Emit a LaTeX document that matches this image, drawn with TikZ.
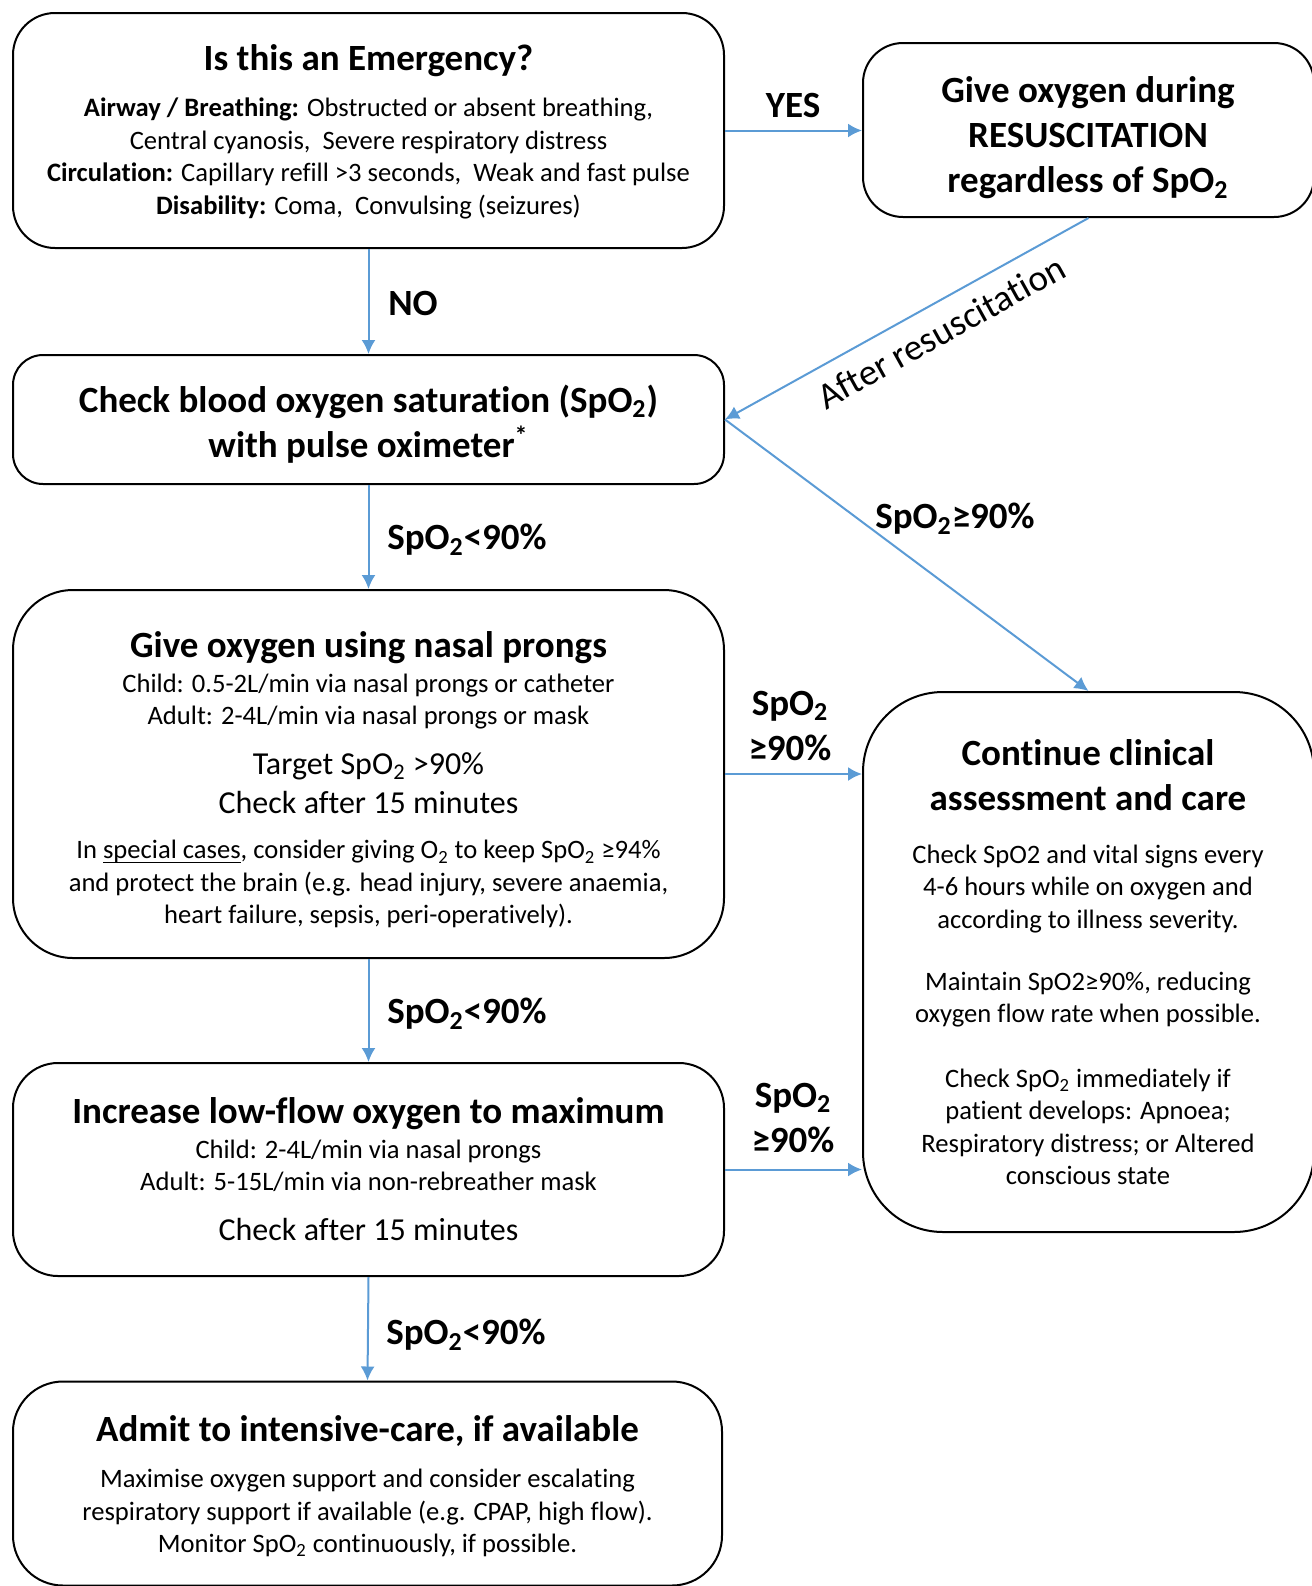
\documentclass[tikz,border=0pt]{standalone}
\usepackage{fontspec}
\setmainfont{Carlito}[Ligatures=NoCommon]
\usetikzlibrary{arrows.meta}
\definecolor{flow}{HTML}{5B9BD5}
\newcommand{\ttlfont}{\fontsize{18.5}{22.5}\selectfont\bfseries}
\newcommand{\txtfont}{\fontsize{13.3}{16.2}\selectfont}
\newcommand{\midfont}{\fontsize{16}{19.5}\selectfont}
\newcommand{\spo}{SpO\textsubscript{2}}
\newcommand{\undr}[1]{\setbox0\hbox{#1}\rlap{\rule[-2pt]{\wd0}{0.6pt}}#1}

\begin{document}
\begin{tikzpicture}[x=0.5pt,y=-0.5pt,
  box/.style={draw,line width=1pt,rounded corners=#1,inner sep=0pt},
  link/.style={draw=flow,line width=1pt,-{Latex[length=7pt,width=7pt]}},
  lbl/.style={font=\ttlfont,inner sep=0pt,align=center}]
\useasboundingbox (0,0) rectangle (1312,1586);
% boxes
\node[box=21pt,minimum width=355.5pt,minimum height=117.5pt] (emerg) at (368.5,130.5) {};
\node[box=20pt,minimum width=225.5pt,minimum height=87pt] (resus) at (1088.5,130) {};
\node[box=15pt,minimum width=355.5pt,minimum height=64.5pt] (check) at (368.5,419.5) {};
\node[box=30pt,minimum width=355.5pt,minimum height=184pt] (nasal) at (368.5,774) {};
\node[box=22.5pt,minimum width=355.5pt,minimum height=106.5pt] (incr) at (368.5,1169.5) {};
\node[box=25pt,minimum width=354.5pt,minimum height=102pt] (admit) at (367.5,1483.5) {};
\node[box=40pt,minimum width=225.5pt,minimum height=270pt] (cont) at (1088.5,962) {};
% texts
\begin{scope}[inner sep=0pt,align=center]
\node[font=\ttlfont] (emerg-t) at (368.5,61) {Is this an Emergency?};
\node[font=\txtfont] (emerg-b) at (368.5,158.5) {\textbf{Airway / Breathing:} Obstructed or absent breathing,\\
  Central cyanosis,~ Severe respiratory distress\\
  \textbf{Circulation:} Capillary refill >3 seconds,~ Weak and fast pulse\\
  \textbf{Disability:} Coma,~ Convulsing (seizures)};
\node[font=\ttlfont] (resus-t) at (1088,138) {Give oxygen during\\RESUSCITATION\\regardless of \spo};
\node[font=\ttlfont] (check-t) at (368.5,424) {Check blood oxygen saturation (\spo)\\with pulse oximeter\textsuperscript{*}};
\node[font=\ttlfont] (nasal-t) at (368.5,648) {Give oxygen using nasal prongs};
\node[font=\txtfont] (nasal-b) at (368.5,701.5) {Child: 0.5-2L/min via nasal prongs or catheter\\Adult: 2-4L/min via nasal prongs or mask};
\node[font=\midfont] (nasal-m) at (368.5,783) {Target \spo{} >90\%\\Check after 15 minutes};
\node[font=\txtfont] (nasal-s) at (368.5,884) {In \undr{special cases}, consider giving O\textsubscript{2} to keep \spo{} ≥94\%\\
  and protect the brain (e.g. head injury, severe anaemia,\\heart failure, sepsis, peri-operatively).};
\node[font=\ttlfont] (incr-t) at (368.5,1114) {Increase low-flow oxygen to maximum};
\node[font=\txtfont] (incr-b) at (368.5,1166) {Child: 2-4L/min via nasal prongs\\Adult: 5-15L/min via non-rebreather mask};
\node[font=\midfont] (incr-m) at (368.5,1229) {Check after 15 minutes};
\node[font=\ttlfont] (admit-t) at (367.5,1431) {Admit to intensive-care, if available};
\node[font=\txtfont] (admit-b) at (367.5,1513) {Maximise oxygen support and consider escalating\\
  respiratory support if available (e.g. CPAP, high flow).\\Monitor \spo{} continuously, if possible.};
\node[font=\ttlfont] (cont-t) at (1088,775) {Continue clinical\\assessment and care};
\node[font=\txtfont] (cont-a) at (1088,889) {Check SpO2 and vital signs every\\4-6 hours while on oxygen and\\according to illness severity.};
\node[font=\txtfont] (cont-b) at (1088,999.5) {Maintain SpO2≥90\%, reducing\\oxygen flow rate when possible.};
\node[font=\txtfont] (cont-c) at (1088,1127) {Check \spo{} immediately if\\patient develops: Apnoea;\\Respiratory distress; or Altered\\conscious state};
\end{scope}
% connectors
\draw[link] (emerg.east) -- (emerg.east -| resus.west);
\draw[link] (emerg.south) -- (check.north);
\draw[link] (resus.south) -- (check.east);
\draw[link] (check.east) -- (cont.north);
\draw[link] (check.south) -- (nasal.north);
\draw[link] (nasal.east) -- (nasal.east -| cont.west);
\draw[link] (nasal.south) -- (incr.north);
\draw[link] (incr.east) -- (incr.east -| cont.west);
\draw[link] (incr.south) -- (admit.north);
% labels
\node[lbl] (yes) at (793,105) {YES};
\node[lbl] (no) at (413,303) {NO};
\node[font=\fontsize{18.5}{22.5}\selectfont,inner sep=0pt,rotate=29] (after) at (941,332) {After resuscitation};
\node[lbl] (hi1) at (955,519) {\spo≥90\%};
\node[lbl] (lo1) at (467,540) {\spo<90\%};
\node[lbl] (hi2) at (790,726) {\spo\\≥90\%};
\node[lbl] (lo2) at (467,1014) {\spo<90\%};
\node[lbl] (hi3) at (793,1118) {\spo\\≥90\%};
\node[lbl] (lo3) at (466,1335) {\spo<90\%};
\end{tikzpicture}
\end{document}
